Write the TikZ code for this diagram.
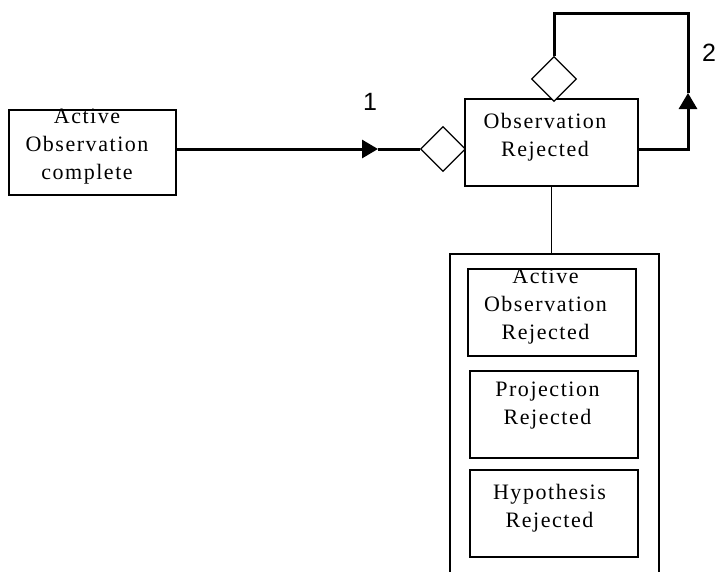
\documentclass[tikz,border=0pt]{standalone}
\usepackage{fontspec}
\setmainfont{Liberation Serif}
\newfontfamily\spaced[LetterSpace=7]{Liberation Serif}
\newfontfamily\numfont{Liberation Sans}
\usetikzlibrary{shapes.geometric,arrows.meta}
\begin{document}
\begin{tikzpicture}[
  x=1pt, y=-1pt,
  every node/.style={font=\spaced\fontsize{22}{28}\selectfont},
  box/.style={draw, line width=1.5pt, inner sep=0pt},
  txt/.style={align=center, inner sep=0pt},
  gate/.style={draw, diamond, line width=1.3pt, fill=white, minimum width=45, minimum height=45, inner sep=0pt},
  num/.style={font=\numfont\fontsize{25}{26}\selectfont},
  flow/.style={line width=3pt},
  tip/.style={line width=3pt, -{Triangle[length=16pt,width=18pt]}}]

\useasboundingbox (0,0) rectangle (717,571);

% boxes
\node[box, minimum width=167, minimum height=85] (done) at (92.5,152.5) {};
\node[txt] (done-t) at (87,147) {Active\\Observation\\complete};

\node[box, minimum width=173, minimum height=87] (obs) at (551.5,142.5) {};
\node[txt] (obs-t) at (545,137) {Observation\\Rejected};

\node[box, minimum width=209, minimum height=340, anchor=north west] (grp) at (449,253) {};

\node[box, minimum width=168, minimum height=87] (aor) at (552,312.5) {};
\node[txt] (aor-t) at (545.5,307) {Active\\Observation\\Rejected};

\node[box, minimum width=168, minimum height=87] (pr) at (554,414.5) {};
\node[txt] (pr-t) at (547.5,405.5) {Projection\\Rejected};

\node[box, minimum width=168, minimum height=87] (hr) at (554,513.5) {};
\node[txt] (hr-t) at (549.5,508) {Hypothesis\\Rejected};

% gates
\node[gate] (g1) at (443,149) {};
\node[gate] (g2) at (554,79) {};

% labels
\node[num] (n1) at (370,102) {1};
\node[num] (n2) at (709,53) {2};

% connectors
\coordinate (a1) at (378,149);
\coordinate (a2) at (688,93);
\coordinate (top) at (688,13);

\draw[tip]  (done.east |- a1) -- (a1);
\draw[flow] (a1) -- (g1.west);
\draw[tip]  (obs.east |- g1) -| (a2);
\draw[flow] (a2) -- (top) -| (g2.north);
\draw[line width=1.5pt] (obs.south) -- (obs.south |- grp.north);
\end{tikzpicture}
\end{document}
